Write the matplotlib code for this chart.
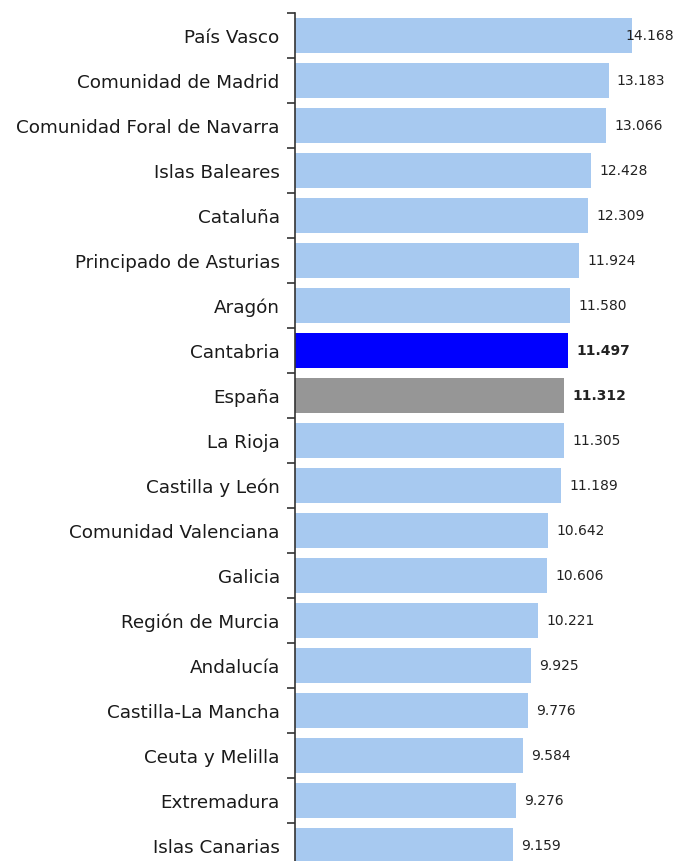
import matplotlib
matplotlib.use("Agg")
import matplotlib.pyplot as plt

regions = ["País Vasco", "Comunidad de Madrid", "Comunidad Foral de Navarra",
           "Islas Baleares", "Cataluña", "Principado de Asturias", "Aragón",
           "Cantabria", "España", "La Rioja", "Castilla y León",
           "Comunidad Valenciana", "Galicia", "Región de Murcia", "Andalucía",
           "Castilla-La Mancha", "Ceuta y Melilla", "Extremadura", "Islas Canarias"]
values = [14.168, 13.183, 13.066, 12.428, 12.309, 11.924, 11.580, 11.497, 11.312,
          11.305, 11.189, 10.642, 10.606, 10.221, 9.925, 9.776, 9.584, 9.276, 9.159]
value_labels = ["14.168", "13.183", "13.066", "12.428", "12.309", "11.924", "11.580",
                "11.497", "11.312", "11.305", "11.189", "10.642", "10.606", "10.221",
                "9.925", "9.776", "9.584", "9.276", "9.159"]
highlight = {"Cantabria": "#0000FF", "España": "#969696"}
base_color = "#A7C9F0"

W, H = 677, 861
fig = plt.figure(figsize=(W / 100, H / 100), dpi=100)
ax = fig.add_axes([295 / W, -7 / H, (W - 295) / W, (868 - 13) / H])

ypos = list(range(len(regions)))
colors = [highlight.get(r, base_color) for r in regions]
ax.barh(ypos, values, height=0.78, color=colors, zorder=2)

ax.set_xlim(0, 16.06)
ax.set_ylim(len(regions) - 0.5, -0.5)

font = "DejaVu Sans"
for i, (v, lab, r) in enumerate(zip(values, value_labels, regions)):
    bold = r in highlight
    if i == 0:
        ax.annotate(lab, xy=(1.0, i), xycoords=("axes fraction", "data"),
                    xytext=(-2, 0), textcoords="offset points",
                    ha="right", va="center", fontsize=10, color="#222222",
                    family=font, fontweight="bold" if bold else "normal", zorder=3)
    else:
        ax.annotate(lab, xy=(v, i), xytext=(6, 0), textcoords="offset points",
                    ha="left", va="center", fontsize=10, color="#222222",
                    family=font, fontweight="bold" if bold else "normal", zorder=3)

ax.set_yticks(ypos)
ax.set_yticklabels(regions, fontsize=13.2, family=font, color="#1a1a1a")
ax.tick_params(axis="y", which="major", length=0, pad=11)
ax.set_yticks([y - 0.5 for y in ypos] + [len(regions) - 0.5], minor=True)
ax.tick_params(axis="y", which="minor", length=6, width=1.2, color="#333333", direction="out")
ax.set_xticks([])
for s in ["top", "right", "bottom"]:
    ax.spines[s].set_visible(False)
ax.spines["left"].set_color("#333333")
ax.spines["left"].set_linewidth(1.2)

fig.savefig("out.png", dpi=100)
